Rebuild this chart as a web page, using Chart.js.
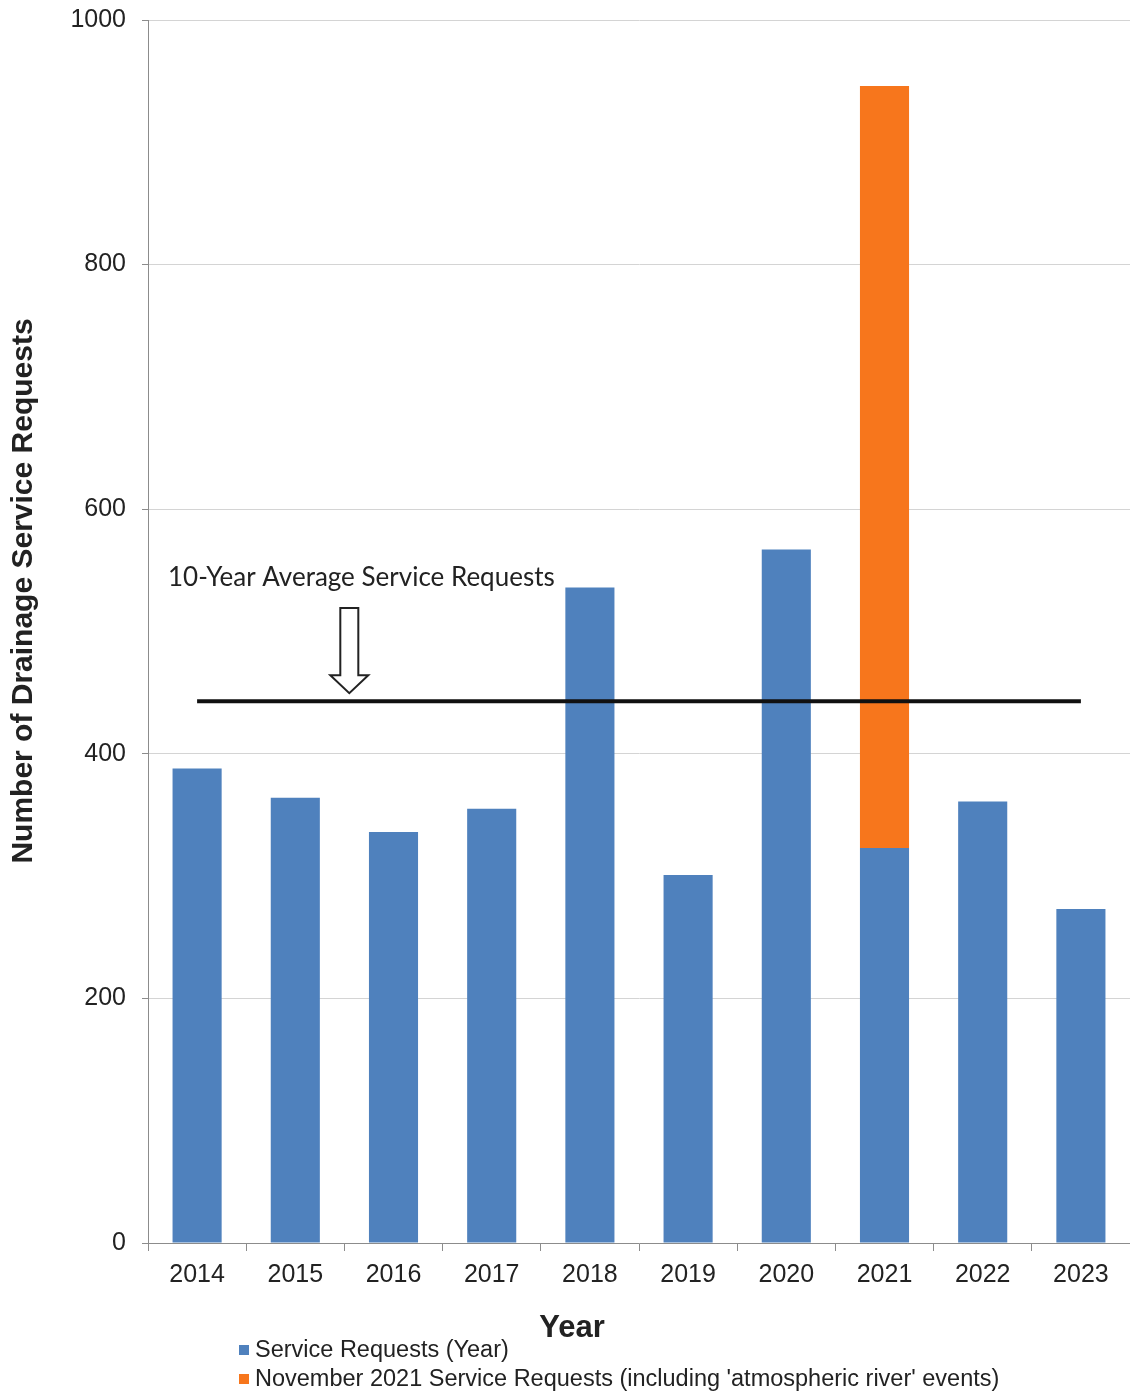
<!DOCTYPE html>
<html>
<head>
<meta charset="utf-8">
<script src="https://cdn.jsdelivr.net/npm/chart.js@4.4.1/dist/chart.umd.min.js"></script>
<style>
  html, body { margin: 0; padding: 0; background: #fff; }
  #wrap { width: 1130px; height: 1395px; position: relative; }
</style>
</head>
<body>
<div id="wrap"><canvas id="drainChart"></canvas></div>
<script>
    // values
    const years = ['2014', '2015', '2016', '2017', '2018', '2019', '2020', '2021', '2022', '2023'];
    const yearRequests = [388, 364, 336, 355, 536, 301, 567, 323, 361, 273];
    const novemberRequests = [0, 0, 0, 0, 0, 0, 0, 623, 0, 0];
    const tenYearAverage = [443, 443, 443, 443, 443, 443, 443, 443, 443, 443];
    const yTicks = [0, 200, 400, 600, 800, 1000];

    const BLUE = '#4f81bd';
    const ORANGE = '#f7761c';
    const TXT = '#222';
    const SANS = '"Liberation Sans", Arial, sans-serif';

    // titles, legend and the arrow note are drawn by hand
    const extrasPlugin = {
      id: 'extras',
      afterDraw(chart) {
        const ctx = chart.ctx;
        const x = chart.scales.x, y = chart.scales.y;
        ctx.save();

        // y axis title
        ctx.fillStyle = TXT;
        ctx.font = 'bold 30px ' + SANS;
        ctx.textAlign = 'center';
        ctx.textBaseline = 'middle';
        ctx.translate(24, 591);
        ctx.rotate(-Math.PI / 2);
        ctx.fillText('Number of Drainage Service Requests', 0, 0);
        ctx.restore();
        ctx.save();

        // x axis title
        ctx.fillStyle = TXT;
        ctx.font = 'bold 31px ' + SANS;
        ctx.textAlign = 'center';
        ctx.textBaseline = 'middle';
        ctx.fillText('Year', 572, 1328);

        // legend
        ctx.font = '23.5px ' + SANS;
        ctx.textAlign = 'left';
        chart.data.datasets.filter(d => d.type !== 'line').forEach((d, i) => {
          const ly = 1350 + i * 29;
          ctx.fillStyle = d.backgroundColor;
          ctx.fillRect(239, ly - 5, 10, 10);
          ctx.fillStyle = TXT;
          ctx.fillText(d.label, 255, ly + 1);
        });

        // note + hollow arrow pointing at the average line
        ctx.font = '26px Lato, "Open Sans", sans-serif';
        ctx.fillStyle = TXT;
        ctx.textBaseline = 'alphabetic';
        ctx.fillText('10-Year Average Service Requests', 168, 586);

        const ax = x.getPixelForValue(1.55);
        const tip = y.getPixelForValue(tenYearAverage[0]) - 8;
        ctx.beginPath();
        ctx.moveTo(ax - 9, 608);
        ctx.lineTo(ax + 9, 608);
        ctx.lineTo(ax + 9, tip - 18);
        ctx.lineTo(ax + 19, tip - 18);
        ctx.lineTo(ax, tip);
        ctx.lineTo(ax - 19, tip - 18);
        ctx.lineTo(ax - 9, tip - 18);
        ctx.closePath();
        ctx.fillStyle = '#fff';
        ctx.fill();
        ctx.strokeStyle = '#222';
        ctx.lineWidth = 2;
        ctx.stroke();
        ctx.restore();
      }
    };

    const ctx = document.getElementById('drainChart').getContext('2d');
    new Chart(ctx, {
      data: {
        labels: years,
        datasets: [
          {
            type: 'line',
            label: '10-Year Average Service Requests',
            data: tenYearAverage,
            borderColor: '#111',
            borderWidth: 4,
            pointRadius: 0,
            stack: 'avg',
            order: 0
          },
          {
            type: 'bar',
            label: 'Service Requests (Year)',
            data: yearRequests,
            backgroundColor: BLUE,
            stack: 'req',
            categoryPercentage: 1,
            barPercentage: 0.5,
            order: 1
          },
          {
            type: 'bar',
            label: "November 2021 Service Requests (including 'atmospheric river' events)",
            data: novemberRequests,
            backgroundColor: ORANGE,
            stack: 'req',
            categoryPercentage: 1,
            barPercentage: 0.5,
            order: 1
          }
        ]
      },
      options: {
        responsive: true,
        maintainAspectRatio: false,
        animation: false,
        layout: { padding: { left: 0, top: 20, right: 0, bottom: 0 } },
        plugins: { legend: { display: false }, tooltip: { enabled: false } },
        scales: {
          x: {
            stacked: true,
            afterFit: s => { s.height = 1395 - 1243; },
            grid: { drawOnChartArea: false, drawTicks: true, tickLength: 8, color: '#8c8c8c' },
            border: { color: '#8c8c8c', width: 1 },
            ticks: { color: TXT, font: { family: SANS, size: 25 }, padding: 9 }
          },
          y: {
            stacked: true,
            min: 0,
            max: 1000,
            afterFit: s => { s.width = 148; s.paddingTop = 0; s.paddingBottom = 0; },
            afterBuildTicks: s => { s.ticks = yTicks.map(v => ({ value: v })); },
            grid: { color: '#d4d4d4', tickLength: 6, tickColor: '#8c8c8c' },
            border: { color: '#8c8c8c', width: 1 },
            ticks: { color: TXT, font: { family: SANS, size: 25 }, padding: 16, callback: v => String(v) }
          }
        }
      },
      plugins: [extrasPlugin]
    });
</script>
</body>
</html>
